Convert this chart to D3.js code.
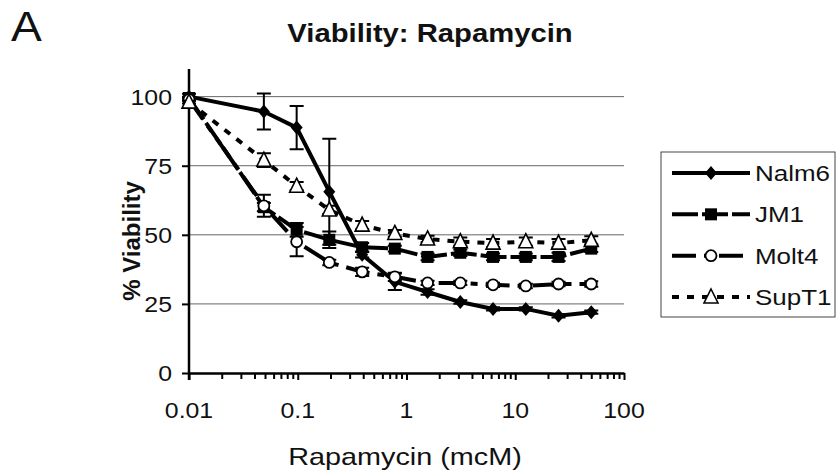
<!DOCTYPE html>
<html>
<head>
  <script src="https://d3js.org/d3.v7.min.js"></script>
  <style>
    body { margin: 0; background: #fff; }
    text { font-family: "Liberation Sans", Arial, sans-serif; fill: #111; }
  </style>
</head>
<body>
  <svg width="840" height="475"></svg>
  <script>
    // concentrations (mcM), first point is the untreated control plotted at 0.01
    var conc = [0.01, 0.0488, 0.0977, 0.195, 0.391, 0.781, 1.5625, 3.125, 6.25, 12.5, 25, 50];

    var nalm6 = [100, 94.6, 88.8, 65.6, 42.8, 33, 29.3, 25.7, 23.2, 23.2, 20.7, 22];
    var nalm6Err = [1, 6.5, 7.8, 19.2, 1, 3, 1, 0.6, 0.6, 0.6, 0.6, 0.6];
    var jm1 = [99.5, 60, 51.8, 48.2, 45.5, 45, 42, 43.5, 42, 42, 42, 45];
    var jm1Err = [0.5, 1.5, 2.5, 3, 1.5, 1, 1.2, 1.2, 1.2, 1.2, 1.5, 1.2];
    var molt4 = [99, 60.5, 47.5, 40, 36.6, 34.8, 32.6, 32.6, 31.9, 31.5, 32.2, 32.2];
    var molt4Err = [0.5, 4, 5.3, 1, 1.5, 1.5, 0.8, 0.8, 0.8, 0.8, 0.8, 1];
    var supt1 = [98, 77, 67.6, 59, 53.5, 50.5, 48.5, 47.5, 47, 47.5, 47, 48];
    var supt1Err = [0.5, 2.5, 1.5, 1.5, 1.5, 1.2, 1.2, 1.5, 1.5, 1.5, 1.5, 1.5];

    var seriesNames = ["Nalm6", "JM1", "Molt4", "SupT1"];
    var yTicks = [0, 25, 50, 75, 100];
    var xTicks = [0.01, 0.1, 1, 10, 100];

    var svg = d3.select("svg");
    var stretch = 1.13;

    var x = d3.scaleLog().domain([0.01, 100]).range([189, 624]);
    var y = d3.scaleLinear().domain([0, 110]).range([373, 69]);

    function label(px, py, str, size, anchor, weight, sx) {
      return svg.append("g")
          .attr("transform", "translate(" + px + "," + py + ") scale(" + (sx || stretch) + ",1)")
        .append("text")
          .attr("text-anchor", anchor)
          .attr("font-size", size)
          .attr("font-weight", weight || "normal")
          .text(str);
    }

    // gridlines
    svg.append("g").selectAll("line")
        .data(yTicks.filter(function(d) { return d > 0; }))
      .enter().append("line")
        .attr("x1", x(0.01)).attr("x2", x(100))
        .attr("y1", function(d) { return y(d); })
        .attr("y2", function(d) { return y(d); })
        .attr("stroke", "#666")
        .attr("stroke-width", 1);

    // y axis
    var yAxis = svg.append("g")
        .attr("transform", "translate(" + x(0.01) + ",0)")
        .call(d3.axisLeft(y).tickValues(yTicks).tickSize(7).tickSizeOuter(0).tickFormat(d3.format("d")));
    yAxis.select(".domain").attr("stroke-width", 2.5).attr("d", "M0," + (y(0) + 7) + "V" + y(110));
    yAxis.selectAll(".tick line").attr("stroke-width", 2);
    yAxis.selectAll(".tick text").remove();
    yTicks.forEach(function(t) {
      label(x(0.01) - 17, y(t) + 8, String(t), 22, "end");
    });

    // x axis: major + minor ticks
    var minor = [];
    [0.01, 0.1, 1, 10].forEach(function(dec) {
      for (var k = 2; k <= 9; k++) minor.push(dec * k);
    });
    var xAxis = svg.append("g")
        .attr("transform", "translate(0," + y(0) + ")")
        .call(d3.axisBottom(x).tickValues(xTicks).tickSize(7).tickSizeOuter(0).tickFormat(""));
    xAxis.select(".domain").attr("stroke-width", 2.5);
    xAxis.selectAll(".tick line").attr("stroke-width", 2);
    svg.append("g")
        .attr("transform", "translate(0," + y(0) + ")")
        .call(d3.axisBottom(x).tickValues(minor).tickSize(6).tickFormat(""))
        .call(function(g) { g.select(".domain").remove(); })
        .selectAll(".tick line").attr("stroke-width", 2);
    xTicks.forEach(function(t) {
      label(x(t), 418, String(t), 22, "middle");
    });

    // titles
    label(11, 41, "A", 42, "start", "normal", 1.1);
    label(430, 42, "Viability: Rapamycin", 25, "middle", "bold", 1.17);
    label(405, 465, "Rapamycin (mcM)", 24, "middle", "normal", 1.2);
    svg.append("text")
        .attr("transform", "translate(140,241) rotate(-90)")
        .attr("text-anchor", "middle")
        .attr("font-size", 24)
        .attr("font-weight", "bold")
        .text("% Viability");

    var series = [
      {name: "Nalm6", vals: nalm6, err: nalm6Err, dash: null, marker: "diamond"},
      {name: "JM1", vals: jm1, err: jm1Err, dash: "26,4", marker: "square"},
      {name: "Molt4", vals: molt4, err: molt4Err, dash: "24,8,7,8", marker: "circle"},
      {name: "SupT1", vals: supt1, err: supt1Err, dash: "7,8", marker: "triangle"}
    ];

    var line = d3.line()
        .x(function(d, i) { return x(conc[i]); })
        .y(function(d) { return y(d); });

    function drawMarker(g, type, cx, cy) {
      if (type === "diamond") {
        g.append("path").attr("d", "M0,-7L6,0L0,7L-6,0Z")
          .attr("transform", "translate(" + cx + "," + cy + ")").attr("fill", "#000");
      } else if (type === "square") {
        g.append("rect").attr("x", cx - 6).attr("y", cy - 6).attr("width", 12).attr("height", 12)
          .attr("fill", "#000");
      } else if (type === "circle") {
        g.append("circle").attr("cx", cx).attr("cy", cy).attr("r", 5.5)
          .attr("fill", "#fff").attr("stroke", "#000").attr("stroke-width", 1.8);
      } else {
        g.append("path").attr("d", "M0,-8L7,6H-7Z")
          .attr("transform", "translate(" + cx + "," + cy + ")")
          .attr("fill", "#fff").attr("stroke", "#000").attr("stroke-width", 1.6);
      }
    }

    var plot = svg.append("g");
    series.forEach(function(s) {
      var p = plot.append("path")
          .datum(s.vals)
          .attr("fill", "none")
          .attr("stroke", "#000")
          .attr("stroke-width", 4)
          .attr("d", line);
      if (s.dash) p.attr("stroke-dasharray", s.dash);
    });

    series.forEach(function(s) {
      var g = plot.append("g");
      s.vals.forEach(function(v, i) {
        var cx = x(conc[i]), e = s.err[i];
        g.append("path")
          .attr("d", "M" + (cx - 7) + "," + y(v + e) + "H" + (cx + 7) +
                     "M" + cx + "," + y(v + e) + "V" + y(v - e) +
                     "M" + (cx - 7) + "," + y(v - e) + "H" + (cx + 7))
          .attr("fill", "none").attr("stroke", "#000").attr("stroke-width", 2);
      });
      s.vals.forEach(function(v, i) { drawMarker(g, s.marker, x(conc[i]), y(v)); });
    });

    // legend
    svg.append("rect")
        .attr("x", 661).attr("y", 152).attr("width", 174).attr("height", 165)
        .attr("fill", "#fff").attr("stroke", "#444").attr("stroke-width", 1);
    var legY = d3.scalePoint().domain(seriesNames).range([173, 297]);
    series.forEach(function(s) {
      var ly = legY(s.name);
      var lp = svg.append("line")
          .attr("x1", 672).attr("x2", 750).attr("y1", ly).attr("y2", ly)
          .attr("stroke", "#000").attr("stroke-width", 4);
      if (s.dash) lp.attr("stroke-dasharray", s.dash);
      drawMarker(svg, s.marker, 711, ly);
      label(755, ly + 8, s.name, 22, "start", "normal", 1.18);
    });
  </script>
</body>
</html>
